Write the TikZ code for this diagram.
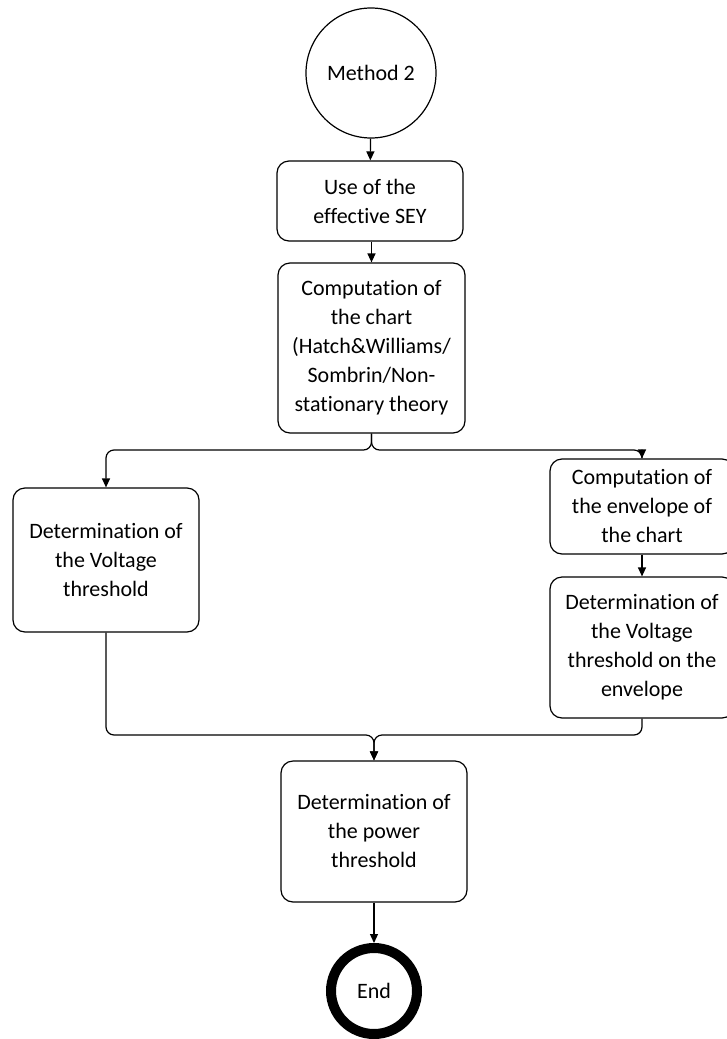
\documentclass[tikz,border=0pt]{standalone}
\usepackage{fontspec}
\setmainfont{Carlito}[Ligatures=NoCommon]
\usetikzlibrary{arrows.meta}
\begin{document}
\begin{tikzpicture}[x=1pt,y=-1pt,
  every node/.style={font=\fontsize{22}{29}\selectfont, align=center, inner sep=0pt},
  procbox/.style={draw, line width=1.2pt, rounded corners=12pt},
  conn/.style={line width=1.2pt, -{Triangle[width=8pt,length=9pt]}},
  brace/.style={line width=1.2pt, rounded corners=8pt, -{Triangle[width=8pt,length=9pt]}}]
\useasboundingbox (0,0) rectangle (726,1039);
\node[draw, circle, line width=1.2pt, minimum size=130pt] (start) at (371,73) {Method 2};
\node[procbox, minimum width=186pt, minimum height=80pt] (b1) at (370,201) {Use of the\\effective SEY};
\node[procbox, minimum width=187pt, minimum height=170pt] (b2) at (371.5,348) {Computation of\\the chart\\(Hatch\&Williams/\\Sombrin/Non-\\stationary theory};
\node[procbox, minimum width=186pt, minimum height=144pt] (b3) at (106,560) {Determination of\\the Voltage\\threshold};
\node[procbox, minimum width=184pt, minimum height=95pt] (b4) at (642,506.5) {Computation of\\the envelope of\\the chart};
\node[procbox, minimum width=184pt, minimum height=141pt] (b5) at (642,647.5) {Determination of\\the Voltage\\threshold on the\\envelope};
\node[procbox, minimum width=186pt, minimum height=141pt] (b6) at (374,831.5) {Determination of\\the power\\threshold};
\node[draw, circle, line width=10pt, minimum size=86pt] (end) at (374,991) {End};
\coordinate (split) at (371.5,450);
\coordinate (merge) at (374,735);
\draw[conn] (start) -- (b1);
\draw[conn] (b1.south -| b2) -- (b2.north);
\draw[brace] (b2.south) |- (split -| b3) -- (b3.north);
\draw[brace] (b2.south) |- (split -| b4) -- (b4.north);
\draw[conn] (b4) -- (b5);
\draw[brace] (b3.south) |- (merge) -- (b6.north);
\draw[brace] (b5.south) |- (merge) -- (b6.north);
\draw[conn] (b6) -- (end);
\end{tikzpicture}
\end{document}
